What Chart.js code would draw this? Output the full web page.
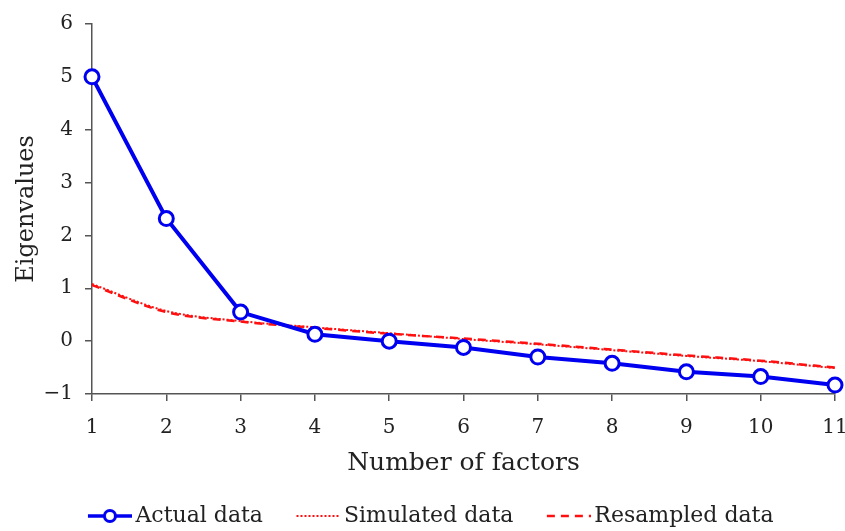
<!DOCTYPE html>
<html>
<head>
<meta charset="utf-8">
<script src="https://cdn.jsdelivr.net/npm/chart.js@4"></script>
<style>
  html, body { margin: 0; padding: 0; background: #fff; }
  #wrap { width: 845px; height: 531px; }
</style>
</head>
<body>
<div id="wrap"><canvas id="scree"></canvas></div>
<script>
var factors = [1, 2, 3, 4, 5, 6, 7, 8, 9, 10, 11];
var actual = [5.0, 2.32, 0.55, 0.13, 0.0, -0.12, -0.30, -0.42, -0.58, -0.67, -0.83];
var simulated = [1.08, 0.57, 0.38, 0.26, 0.15, 0.04, -0.06, -0.17, -0.28, -0.38, -0.51];
var resampled = [1.06, 0.55, 0.37, 0.25, 0.14, 0.05, -0.05, -0.16, -0.27, -0.37, -0.50];
var yTicks = [-1, 0, 1, 2, 3, 4, 5, 6];

var FONT = "'DejaVu Serif', serif";
var BLUE = '#0000f0';
var RED = '#ff1010';
var INK = '#222';

// legend swatches: the visible line sits in the right part of each canvas
function swatch(kind) {
  var c = document.createElement('canvas');
  c.width = 81; c.height = 20;
  var g = c.getContext('2d');
  var x0 = 37, x1 = 81;
  g.beginPath();
  g.moveTo(x0, 10); g.lineTo(x1, 10);
  if (kind === 'actual') {
    g.strokeStyle = BLUE; g.lineWidth = 3.5;
    g.stroke();
    g.beginPath();
    g.arc((x0 + x1) / 2, 10, 5.5, 0, Math.PI * 2);
    g.fillStyle = '#fff'; g.fill();
    g.lineWidth = 3; g.stroke();
  } else if (kind === 'sim') {
    g.strokeStyle = RED; g.lineWidth = 2;
    g.setLineDash([2, 2]);
    g.stroke();
  } else {
    g.strokeStyle = RED; g.lineWidth = 2.5;
    g.setLineDash([8, 6]);
    g.stroke();
  }
  return c;
}
var swatches = [swatch('actual'), swatch('sim'), swatch('res')];

new Chart(document.getElementById('scree'), {
  type: 'line',
  data: {
    labels: factors,
    datasets: [{
      label: 'Actual data',
      data: actual,
      borderColor: BLUE,
      borderWidth: 4,
      pointRadius: 7,
      pointBorderWidth: 3,
      pointBackgroundColor: '#fff',
      pointBorderColor: BLUE,
      order: 0
    }, {
      label: 'Simulated data',
      data: simulated,
      borderColor: RED,
      borderWidth: 2,
      borderDash: [2, 2],
      pointRadius: 0,
      cubicInterpolationMode: 'monotone',
      order: 1
    }, {
      label: 'Resampled data',
      data: resampled,
      borderColor: RED,
      borderWidth: 2.5,
      borderDash: [8, 6],
      pointRadius: 0,
      cubicInterpolationMode: 'monotone',
      order: 2
    }]
  },
  options: {
    responsive: true,
    maintainAspectRatio: false,
    animation: false,
    layout: { padding: { top: 14, right: 9, bottom: -6, left: -4 } },
    plugins: {
      tooltip: { enabled: false },
      legend: {
        position: 'bottom',
        labels: {
          usePointStyle: true,
          pointStyleWidth: 66,
          padding: 4,
          color: INK,
          font: { family: FONT, size: 22 },
          generateLabels: function (chart) {
            return chart.data.datasets.map(function (ds, i) {
              return {
                text: ds.label,
                pointStyle: swatches[i],
                fontColor: INK,
                strokeStyle: 'transparent',
                fillStyle: 'transparent',
                lineWidth: 0,
                datasetIndex: i
              };
            });
          }
        }
      }
    },
    scales: {
      x: {
        type: 'category',
        offset: false,
        grid: { drawOnChartArea: false, drawTicks: true, tickLength: 7, color: '#555', lineWidth: 1.5 },
        border: { display: true, color: '#555', width: 1.5 },
        ticks: { color: INK, font: { family: FONT, size: 20 }, padding: 15, maxRotation: 0 },
        title: { display: true, text: 'Number of factors', color: INK, font: { family: FONT, size: 25 }, padding: { top: 4, bottom: 23 } },
        afterFit: function (s) {
          s.height = 107;
          s.paddingLeft = 0;
          s.paddingRight = 0;
        }
      },
      y: {
        min: -1,
        max: 6,
        afterBuildTicks: function (s) { s.ticks = yTicks.map(function (v) { return { value: v }; }); },
        grid: { drawOnChartArea: false, drawTicks: true, tickLength: 7, color: '#555', lineWidth: 1.5 },
        border: { display: true, color: '#555', width: 1.5 },
        ticks: {
          color: INK,
          font: { family: FONT, size: 20 },
          padding: 12,
          callback: function (v) { return String(v).replace('-', '\u2212'); }
        },
        title: { display: true, text: 'Eigenvalues', color: INK, font: { family: FONT, size: 24 }, padding: { top: 16, bottom: 6 } },
        afterFit: function (s) { s.width = 96; }
      }
    }
  }
});
</script>
</body>
</html>
